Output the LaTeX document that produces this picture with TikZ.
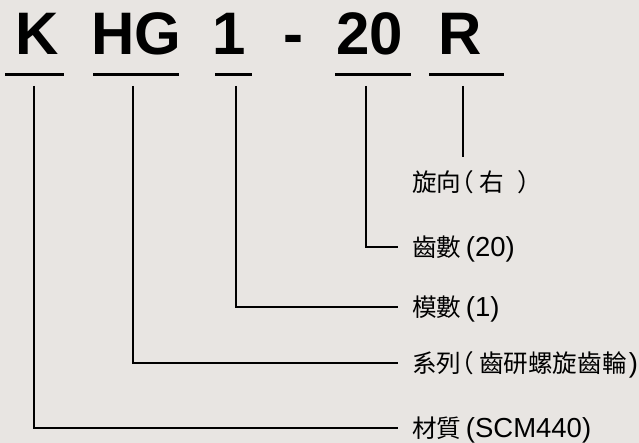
\documentclass[tikz,border=0pt]{standalone}
\usepackage{fontspec}
\setmainfont{Liberation Sans}
\newfontfamily\cjkfont[RawFeature=+halt]{Noto Sans CJK TC}
\newcommand\latin[1]{{\normalfont\fontsize{27.5}{28}\selectfont #1}}
\definecolor{paper}{RGB}{232,229,226}
\begin{document}
\begin{tikzpicture}[x=1pt,y=-1pt,
  code/.style={font=\fontsize{60}{60}\selectfont\bfseries, inner sep=0pt, anchor=base},
  lbl/.style={font=\cjkfont\fontsize{24.6}{26}\selectfont, inner sep=0pt, anchor=base west},
  bar/.style={line width=3pt},
  conn/.style={line width=1.6pt, line join=miter}]
\fill[paper] (0,0) rectangle (639,443);
\useasboundingbox (0,0) rectangle (639,443);

% part code
\node[code] (cK)  at (37.5,55) {K};
\node[code] (cHG) at (136.5,55) {HG};
\node[code] (c1)  at (229,55) {1};
\node[code] (cD)  at (293,55) {-};
\node[code] (c20) at (369.5,55) {20};
\node[code] (cR)  at (460.5,55) {R};

% underlines
\draw[bar] (5,75) -- (64,75);
\draw[bar] (93,75) -- (179,75);
\draw[bar] (215,75) -- (252,75);
\draw[bar] (335,75) -- (411,75);
\draw[bar] (429,75) -- (504,75);

% connector start points
\coordinate (dK)  at (34,86);
\coordinate (dHG) at (133,86);
\coordinate (d1)  at (236,86);
\coordinate (d20) at (366,86);
\coordinate (dR)  at (463,86);
\coordinate (eR)  at (463,157);

% labels
\node[lbl] (lRot) at (412,191.5) {旋向（\hspace{6pt}右\hspace{13.5pt}）};
\node[lbl] (lTee) at (412,256.5) {齒數\hspace{4.5pt}\latin{(20)}};
\node[lbl] (lMod) at (412,316.5) {模數\hspace{4.5pt}\latin{(1)}};
\node[lbl] (lSer) at (412,372.5) {系列（\hspace{5.5pt}齒研螺旋齒輪\hspace{2pt}\latin{)}};
\node[lbl] (lMat) at (412,437.5) {材質\hspace{4.5pt}\latin{(SCM440)}};

% connectors
\tikzset{lead/.style={xshift=-14pt, yshift=9.5pt}}
\draw[conn] (dR) -- (eR);
\draw[conn] (d20) |- ([lead]lTee.base west);
\draw[conn] (d1)  |- ([lead]lMod.base west);
\draw[conn] (dHG) |- ([lead]lSer.base west);
\draw[conn] (dK)  |- ([lead]lMat.base west);
\end{tikzpicture}
\end{document}
